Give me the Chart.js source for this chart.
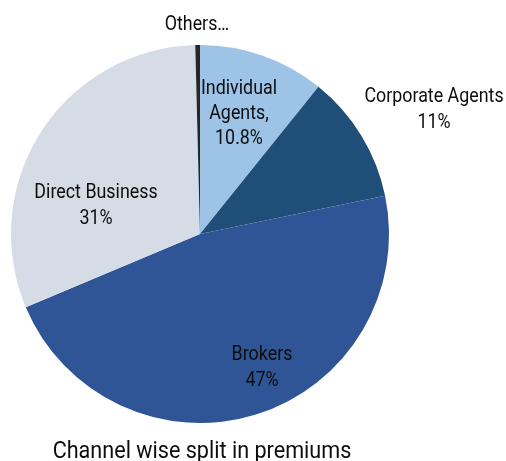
<!DOCTYPE html>
<html>
<head>
<meta charset="utf-8">
<script src="https://cdn.jsdelivr.net/npm/chart.js@4"></script>
<style>
  body { margin: 0; background: #fff; }
</style>
</head>
<body>
<canvas id="pie" width="506" height="461"></canvas>
<script>
// channel shares (%)
const categories = ['Individual Agents', 'Corporate Agents', 'Brokers', 'Direct Business', 'Others'];
const shares = [10.8, 11, 47, 31, 0.4];
const colors = ['#9dc3e6', '#1f4e79', '#2f5597', '#d6dce5', '#262626'];

const FONT = 'Roboto, "Liberation Sans", sans-serif';

// text lines for each slice label, and where they sit
const labelLines = [
    ['Individual', 'Agents,', shares[0] + '%'],
    [categories[1], shares[1] + '%'],
    [categories[2], shares[2] + '%'],
    [categories[3], shares[3] + '%'],
    [categories[4] + '\u2026']
];
const labelPos = [
    { x: 239, y: 89, lh: 25 },
    { x: 434, y: 97, lh: 26 },
    { x: 262, y: 355, lh: 26 },
    { x: 96, y: 193, lh: 26 },
    { x: 197, y: 25, lh: 26 }
];

// draw text narrowed horizontally (condensed look)
function squeezedText(ctx, text, x, y, sx) {
    ctx.save();
    ctx.translate(x, y);
    ctx.scale(sx, 1);
    ctx.fillText(text, 0, 0);
    ctx.restore();
}

const sliceLabels = {
    id: 'sliceLabels',
    afterDraw(chart) {
        const ctx = chart.ctx;
        ctx.save();
        ctx.fillStyle = '#0d0d0d';
        ctx.textAlign = 'center';
        ctx.textBaseline = 'middle';
        ctx.font = '21px ' + FONT;
        labelLines.forEach((lines, i) => {
            const p = labelPos[i];
            lines.forEach((t, j) => squeezedText(ctx, t, p.x, p.y + j * p.lh, 0.85));
        });
        ctx.font = '24px ' + FONT;
        squeezedText(ctx, 'Channel wise split in premiums', 202, 452, 0.9);
        ctx.restore();
    }
};

new Chart(document.getElementById('pie'), {
    type: 'pie',
    data: {
        labels: categories,
        datasets: [{
            data: shares,
            backgroundColor: colors,
            borderWidth: 0
        }]
    },
    options: {
        responsive: false,
        animation: false,
        layout: { padding: { left: 11, right: 117, top: 45, bottom: 38 } },
        plugins: {
            legend: { display: false },
            tooltip: { enabled: false }
        }
    },
    plugins: [sliceLabels]
});
</script>
</body>
</html>
